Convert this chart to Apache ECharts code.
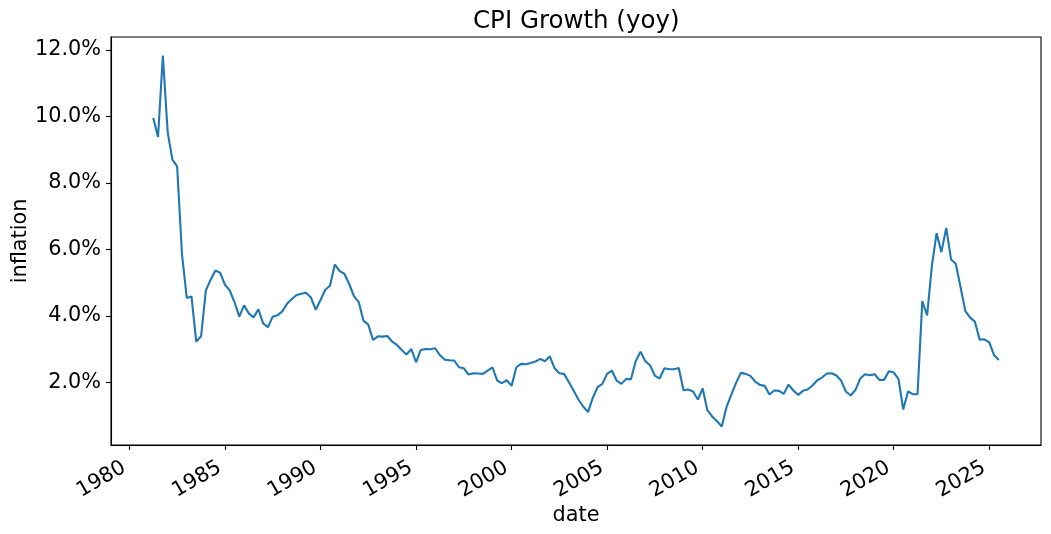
<!DOCTYPE html>
<html>
<head>
<meta charset="utf-8">
<script src="https://cdn.jsdelivr.net/npm/echarts@6/dist/echarts.min.js"></script>
<style>
  html, body { margin: 0; padding: 0; background: #fff; }
  #chart { width: 1051px; height: 534px; }
</style>
</head>
<body>
<div id="chart"></div>
<script>
// Quarterly series, first observation 1981-04-01, one value per quarter
const startYear = 1981;
const startMonth = 4; // April

// CPI yoy growth (%), grouped by period
const values1981to1985 = [9.95, 9.38, 11.83, 9.53, 8.70, 8.50, 5.87, 4.54, 4.59, 3.23,
  3.39, 4.77, 5.09, 5.37, 5.30, 4.94, 4.77, 4.42, 3.98, 4.32];
const values1986to1990 = [4.08, 3.96, 4.20, 3.78, 3.66, 3.98, 4.02, 4.14, 4.37, 4.51,
  4.63, 4.67, 4.70, 4.56, 4.19, 4.48, 4.79, 4.91, 5.55, 5.35];
const values1991to1995 = [5.27, 4.97, 4.60, 4.42, 3.86, 3.74, 3.28, 3.39, 3.38, 3.40,
  3.23, 3.13, 2.98, 2.84, 3.01, 2.61, 2.98, 3.01, 3.00, 3.03];
const values1996to2000 = [2.82, 2.69, 2.67, 2.66, 2.46, 2.43, 2.24, 2.28, 2.27, 2.26,
  2.36, 2.46, 2.06, 1.98, 2.07, 1.90, 2.46, 2.56, 2.55, 2.59];
const values2001to2005 = [2.63, 2.71, 2.64, 2.79, 2.43, 2.28, 2.26, 2.01, 1.76, 1.49,
  1.28, 1.11, 1.54, 1.86, 1.96, 2.26, 2.36, 2.06, 1.96, 2.11];
const values2006to2010 = [2.10, 2.64, 2.93, 2.64, 2.52, 2.21, 2.12, 2.43, 2.40, 2.40,
  2.44, 1.77, 1.79, 1.73, 1.49, 1.82, 1.17, 0.98, 0.84, 0.68];
const values2011to2015 = [1.26, 1.63, 1.99, 2.29, 2.26, 2.20, 2.03, 1.93, 1.90, 1.64,
  1.76, 1.75, 1.66, 1.94, 1.76, 1.63, 1.75, 1.79, 1.91, 2.07];
const values2016to2020 = [2.15, 2.27, 2.28, 2.21, 2.06, 1.73, 1.61, 1.78, 2.12, 2.25,
  2.22, 2.25, 2.08, 2.08, 2.34, 2.30, 2.11, 1.19, 1.73, 1.65];
const values2021to2025 = [1.65, 4.45, 4.02, 5.52, 6.49, 5.92, 6.65, 5.70, 5.57, 4.87,
  4.15, 3.95, 3.83, 3.29, 3.30, 3.21, 2.83, 2.68];

const yTicks = [2, 4, 6, 8, 10, 12];
const xTickYears = [1980, 1985, 1990, 1995, 2000, 2005, 2010, 2015, 2020, 2025];

const inflation = [].concat(values1981to1985, values1986to1990, values1991to1995,
  values1996to2000, values2001to2005, values2006to2010, values2011to2015,
  values2016to2020, values2021to2025);

function decimalYear(y, m) {
  const t = Date.UTC(y, m - 1, 1);
  const s = Date.UTC(y, 0, 1);
  const e = Date.UTC(y + 1, 0, 1);
  return y + (t - s) / (e - s);
}

const seriesData = inflation.map((v, i) => {
  const totalMonths = (startMonth - 1) + 3 * i;
  const y = startYear + Math.floor(totalMonths / 12);
  const m = (totalMonths % 12) + 1;
  return [decimalYear(y, m), v];
});

const xs = seriesData.map(d => d[0]);
const x0 = Math.min(...xs), x1 = Math.max(...xs);
const ymin = Math.min(...inflation), ymax = Math.max(...inflation);
const xPad = (x1 - x0) * 0.05, yPad = (ymax - ymin) * 0.05;

const font = '"DejaVu Sans", sans-serif';
const chart = echarts.init(document.getElementById('chart'), null, { renderer: 'canvas' });
chart.setOption({
  animation: false,
  backgroundColor: '#ffffff',
  title: {
    text: 'CPI Growth (yoy)',
    left: 468,
    top: 4,
    textStyle: { fontFamily: font, fontSize: 24.5, fontWeight: 'normal', color: '#000' }
  },
  grid: {
    left: 111, right: 10, top: 37, bottom: 89,
    containLabel: false,
    outerBoundsMode: 'none',
    show: true, borderColor: '#000', borderWidth: 1.1, backgroundColor: 'transparent'
  },
  xAxis: {
    type: 'value',
    min: x0 - xPad,
    max: x1 + xPad,
    name: 'date',
    nameLocation: 'middle',
    nameGap: 60,
    nameMoveOverlap: false,
    nameTextStyle: { fontFamily: font, fontSize: 20.8, color: '#000' },
    axisLine: { show: true, onZero: false, lineStyle: { color: '#000', width: 1.1 } },
    axisTick: { show: true, length: 5, lineStyle: { color: '#000', width: 1.1 }, customValues: xTickYears },
    axisLabel: {
      customValues: xTickYears,
      rotate: 30,
      margin: 6,
      align: 'right',
      verticalAlign: 'top',
      padding: [0, 12, 0, 0],
      fontFamily: font, fontSize: 20.8, color: '#000',
      formatter: v => String(Math.round(v))
    },
    splitLine: { show: false }
  },
  yAxis: {
    type: 'value',
    min: ymin - yPad,
    max: ymax + yPad,
    name: 'inflation',
    nameLocation: 'middle',
    nameGap: 80,
    nameMoveOverlap: false,
    nameTextStyle: { fontFamily: font, fontSize: 20.8, color: '#000' },
    axisLine: { show: true, onZero: false, lineStyle: { color: '#000', width: 1.1 } },
    axisTick: { show: true, length: 5, lineStyle: { color: '#000', width: 1.1 }, customValues: yTicks },
    axisLabel: {
      customValues: yTicks,
      margin: 10,
      fontFamily: font, fontSize: 20.8, color: '#000',
      formatter: v => v.toFixed(1) + '%'
    },
    splitLine: { show: false }
  },
  series: [{
    type: 'line',
    data: seriesData,
    showSymbol: false,
    lineStyle: { color: '#1f77b4', width: 2.1 },
    itemStyle: { color: '#1f77b4' }
  }]
});
</script>
</body>
</html>
